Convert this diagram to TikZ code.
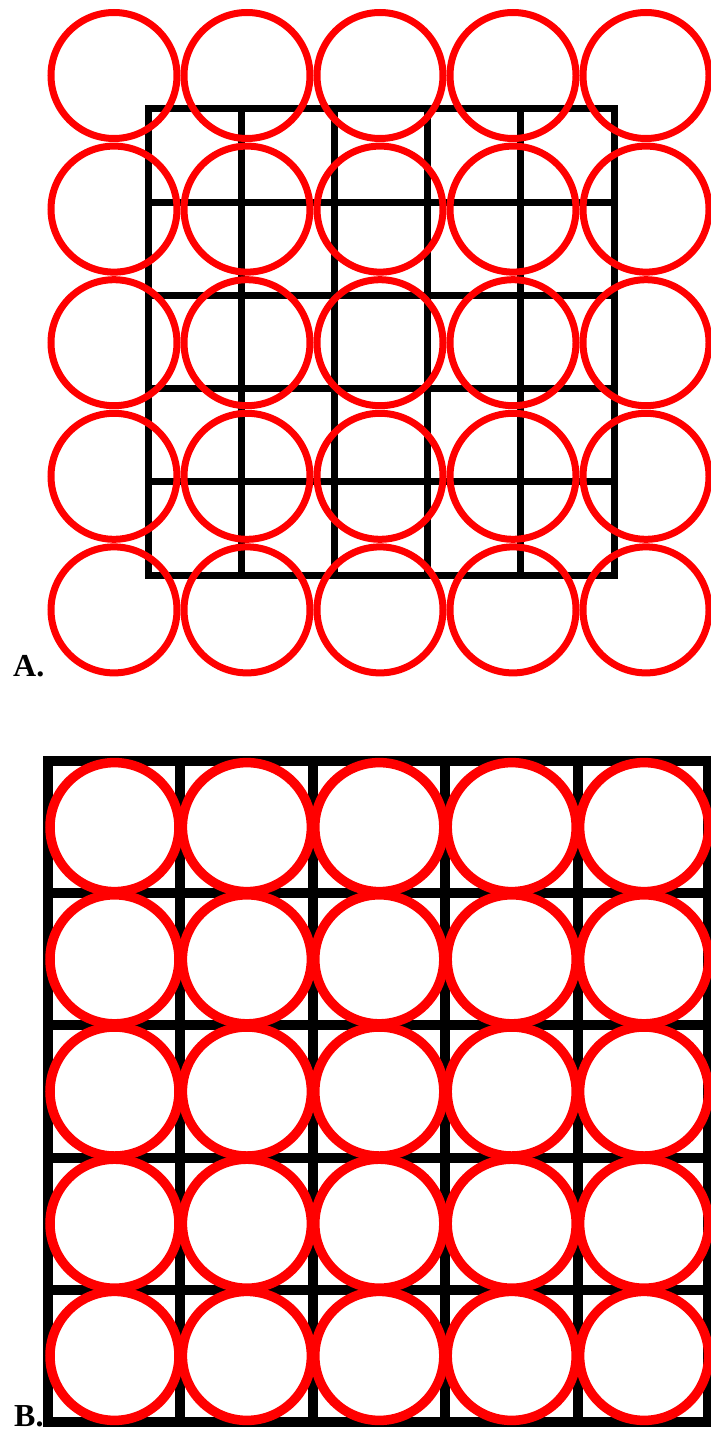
\documentclass[tikz,border=0pt]{standalone}
\usepackage{fontspec}
\setmainfont{Liberation Serif}[BoldFont={Liberation Serif Bold}]
\begin{document}
\begin{tikzpicture}[x=1pt,y=-1pt,
  gridA/.style={black, line width=7pt},
  ringA/.style={red, line width=7pt},
  gridB/.style={black, line width=10pt},
  ringB/.style={red, line width=9.5pt},
  lab/.style={font=\fontsize{32}{32}\selectfont\bfseries, anchor=base west, inner sep=0pt}]
\useasboundingbox (0,0) rectangle (711,1431);
% ---- Panel A ----
\draw[gridA] (148,109) rectangle (614,575);
\foreach \i in {1,...,4} {
  \draw[gridA] ({148+93.2*\i},109) -- ({148+93.2*\i},575);
  \draw[gridA] (148,{109+93.2*\i}) -- (614,{109+93.2*\i});
}
\foreach \i in {0,...,4} {
  \foreach \j in {0,...,4} {
    \draw[ringA] ({114+133*\i},{75.5+133.6*\j}) circle[radius=63];
  }
}
\node[lab] (labA) at (13,676) {A.};
% ---- Panel B ----
\draw[gridB] (48,761) rectangle (708,1422);
\foreach \i in {1,...,4} {
  \draw[gridB] ({48+132.4*\i},761) -- ({48+132.4*\i},1422);
  \draw[gridB] (48,{761+132.2*\i}) -- (708,{761+132.2*\i});
}
\foreach \i in {0,...,4} {
  \foreach \j in {0,...,4} {
    \draw[ringB] ({114.5+132.4*\i},{827.1+132.2*\j}) circle[radius=64.5];
  }
}
\node[lab] (labB) at (14,1426) {B.};
\end{tikzpicture}
\end{document}
